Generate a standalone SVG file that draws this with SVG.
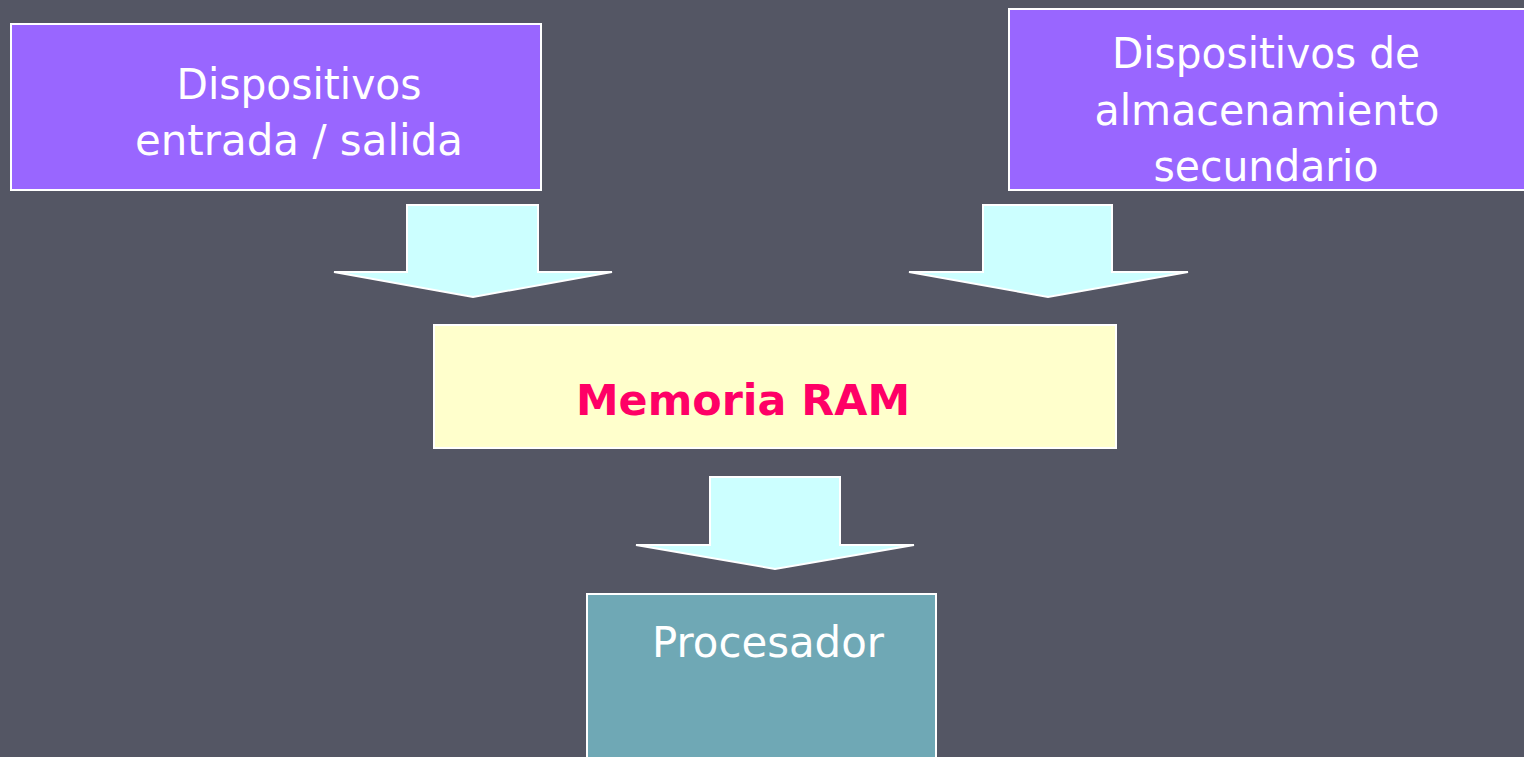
<svg xmlns="http://www.w3.org/2000/svg" width="1524" height="757" viewBox="0 0 1524 757">
  <style>
    .box { stroke: #ffffff; stroke-width: 2; }
    .io { fill: #9966ff; }
    .ram { fill: #ffffcc; }
    .cpu { fill: #6fa8b5; }
    .arrow { fill: #ccffff; stroke: #ffffff; stroke-width: 2; stroke-linejoin: miter; }
    .label { font-family: "DejaVu Sans", Verdana, sans-serif; font-size: 43px; fill: #ffffff; text-anchor: middle; }
    .ramlabel { font-family: "DejaVu Sans", Verdana, sans-serif; font-size: 43px; font-weight: bold; fill: #ff0066; text-anchor: middle; }
  </style>
  <rect width="1524" height="757" fill="#545664"/>

  <g id="io-devices">
    <rect class="box io" x="11" y="24" width="530" height="166"/>
    <text class="label" x="299" y="99" textLength="245" lengthAdjust="spacingAndGlyphs">Dispositivos</text>
    <text class="label" x="299" y="155" textLength="328" lengthAdjust="spacingAndGlyphs">entrada / salida</text>
  </g>

  <g id="storage-devices">
    <rect class="box io" x="1009" y="9" width="520" height="181"/>
    <text class="label" x="1266" y="68" textLength="308" lengthAdjust="spacingAndGlyphs">Dispositivos de</text>
    <text class="label" x="1267" y="125" textLength="345" lengthAdjust="spacingAndGlyphs">almacenamiento</text>
    <text class="label" x="1266" y="181" textLength="225" lengthAdjust="spacingAndGlyphs">secundario</text>
  </g>

  <g id="ram">
    <rect class="box ram" x="434" y="325" width="682" height="123"/>
    <text class="ramlabel" x="743" y="415" textLength="334" lengthAdjust="spacingAndGlyphs">Memoria RAM</text>
  </g>

  <g id="cpu">
    <rect class="box cpu" x="587" y="594" width="349" height="175"/>
    <text class="label" x="768" y="657" textLength="232" lengthAdjust="spacingAndGlyphs">Procesador</text>
  </g>

  <g id="connectors">
    <polygon class="arrow" points="407,205 538,205 538,272 612,272 473,297 334,272 407,272"/>
    <polygon class="arrow" points="983,205 1112,205 1112,272 1188,272 1048,297 909,272 983,272"/>
    <polygon class="arrow" points="710,477 840,477 840,545 914,545 775,569 636,545 710,545"/>
  </g>
</svg>
